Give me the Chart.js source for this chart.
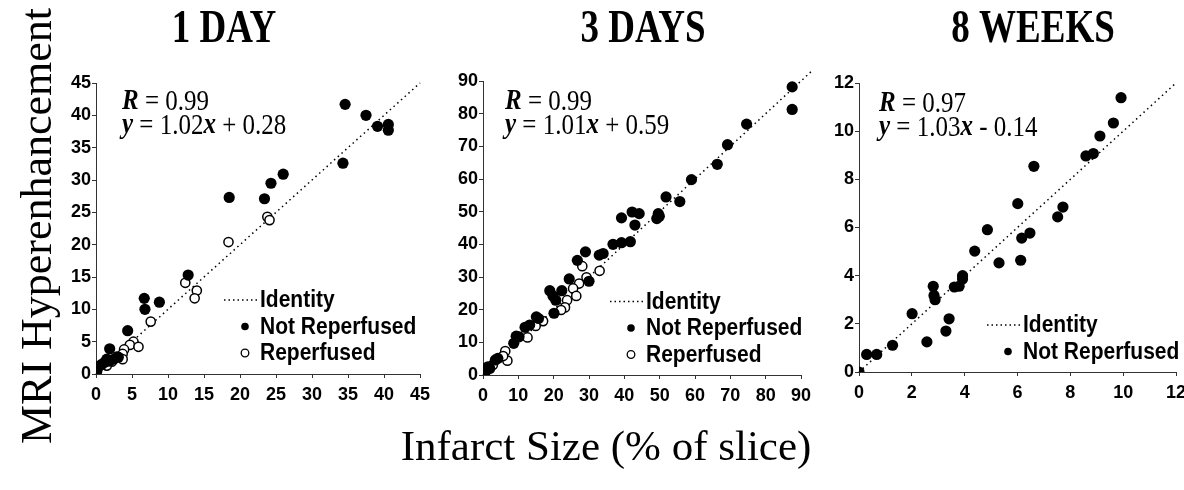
<!DOCTYPE html>
<html>
<head>
<meta charset="utf-8">
<script src="https://cdn.jsdelivr.net/npm/chart.js@4"></script>
<style>
  body { margin: 0; background: #fff; width: 1184px; height: 490px; overflow: hidden; }
  canvas { position: absolute; left: 0; top: 0; }
</style>
</head>
<body>
<canvas id="day1" width="1184" height="490"></canvas>
<canvas id="day3" width="1184" height="490"></canvas>
<canvas id="week8" width="1184" height="490"></canvas>
<script>
// ---- data ----
const panelTitles = ["1 DAY", "3 DAYS", "8 WEEKS"];
const legendLabels = ["Identity", "Not Reperfused", "Reperfused"];
const fitR = ["0.99", "0.99", "0.97"];
const fitSlope = ["1.02", "1.01", "1.03"];
const fitIntercept = ["+ 0.28", "+ 0.59", "- 0.14"];
const axisMax = [45, 90, 12];
const axisStep = [5, 10, 2];
const identityEnd = [45, 93, 12];

const day1NotRepX = [34.6, 37.5, 39.1, 40.6, 40.6, 34.3, 26.0, 24.3, 23.4, 18.5, 12.8, 6.7, 6.8, 8.8, 4.4, 1.9, 3.1, 2.5, 1.9, 1.5, 1.2, 0.8, 0.4, 0.2, 0.1, 0];
const day1NotRepY = [41.7, 40.0, 38.3, 38.6, 37.7, 32.6, 30.9, 29.5, 27.1, 27.3, 15.3, 11.7, 10.0, 11.1, 6.7, 3.9, 2.6, 2.3, 2.0, 2.3, 1.8, 1.5, 1.2, 0.9, 0.4, 0];
const day1RepX = [23.8, 24.1, 18.4, 12.4, 14.0, 13.7, 7.6, 5.2, 4.7, 5.9, 3.9, 3.7, 3.7, 2.9, 2.2, 1.5];
const day1RepY = [24.3, 23.8, 20.4, 14.1, 12.9, 11.7, 8.1, 5.0, 4.5, 4.2, 3.8, 3.1, 2.3, 2.7, 1.9, 1.3];

const day3NotRepX = [87.5, 87.5, 74.6, 69.2, 66.3, 59.0, 51.8, 55.7, 49.6, 49.9, 49.2, 42.2, 44.2, 39.2, 43.0, 41.7, 36.8, 39.2, 29.0, 32.9, 34.0, 26.7, 24.4, 30.0, 18.9, 19.8, 20.6, 22.3, 20.1, 15.1, 15.7, 11.9, 13.2, 9.4, 10.2, 8.7, 4.2, 3.5, 1.9, 1.4, 0.9, 0.5, 0.3];
const day3NotRepY = [88.2, 81.3, 76.8, 70.5, 64.5, 59.8, 54.5, 53.1, 49.4, 48.6, 47.9, 49.9, 49.4, 48.1, 45.9, 40.8, 40.0, 40.5, 37.7, 36.7, 37.2, 35.1, 29.4, 28.7, 25.8, 24.2, 22.9, 25.8, 18.9, 17.8, 17.3, 14.6, 15.3, 11.9, 11.7, 9.7, 5.1, 4.6, 2.0, 2.5, 1.5, 0.5, 0];
const day3RepX = [28.1, 33.0, 29.3, 27.2, 25.5, 26.4, 23.8, 23.2, 22.1, 17.0, 14.9, 12.6, 6.3, 6.9, 2.8, 1.4, 5.7];
const day3RepY = [33.3, 31.9, 29.9, 28.0, 26.5, 24.2, 22.9, 20.7, 19.9, 16.5, 15.0, 11.5, 7.3, 4.4, 3.1, 2.0, 5.8];

const week8NotRepX = [9.92, 9.63, 9.12, 8.87, 8.59, 6.62, 6.01, 7.72, 7.52, 6.47, 6.16, 6.12, 4.86, 5.30, 4.38, 3.92, 3.92, 3.61, 3.79, 2.81, 2.84, 2.88, 3.41, 3.29, 2.57, 2.01, 1.27, 0.67, 0.29, 0];
const week8NotRepY = [11.39, 10.34, 9.80, 9.07, 8.97, 8.54, 6.99, 6.85, 6.44, 5.77, 5.56, 4.64, 5.91, 4.53, 5.02, 4.00, 3.86, 3.53, 3.56, 3.56, 3.18, 3.00, 2.21, 1.70, 1.25, 2.42, 1.11, 0.73, 0.73, 0];

function pts(xs, ys) {
  return xs.map((x, i) => ({ x: x, y: ys[i] }));
}

const serif = '"Liberation Serif", "Times New Roman", serif';
const sans = '"Liberation Sans", Arial, sans-serif';

// draws a line of text made of runs with different font styles,
// stretched a little vertically like the scanned original
function drawRuns(ctx, x, y, runs, size) {
  ctx.save();
  ctx.translate(x, y);
  ctx.scale(1, 1.15);
  ctx.textAlign = "left";
  ctx.textBaseline = "middle";
  let cx = 0;
  for (const [style, text] of runs) {
    ctx.font = style + " " + size + "px " + serif;
    ctx.fillText(text, cx, 0);
    cx += ctx.measureText(text).width;
  }
  ctx.restore();
}

const panelText = {
  id: "panelText",
  afterDraw(chart, args, o) {
    const ctx = chart.ctx;
    ctx.save();
    ctx.fillStyle = "#000";

    // panel title
    ctx.save();
    ctx.translate(o.titleX, 30);
    ctx.scale(1, 1.25);
    ctx.font = "bold 37px " + serif;
    ctx.textAlign = "center";
    ctx.textBaseline = "middle";
    ctx.fillText(o.title, 0, 0);
    ctx.restore();

    // regression text
    drawRuns(ctx, o.noteX, o.noteY, [["bold italic", "R"], ["", " = " + o.r]], 25);
    drawRuns(ctx, o.noteX, o.noteY + 24, [["bold italic", "y"], ["", " = " + o.slope], ["bold italic", "x"], ["", " " + o.intercept]], 25);

    // legend
    o.labels.forEach((lab, i) => {
      const y = o.legY + i * 26.5;
      if (i === 0) {
        ctx.save();
        ctx.strokeStyle = "#000";
        ctx.lineWidth = 1.5;
        ctx.setLineDash([1.5, 3]);
        ctx.beginPath();
        ctx.moveTo(o.legX - 36, y);
        ctx.lineTo(o.legX - 1, y);
        ctx.stroke();
        ctx.restore();
      } else {
        ctx.beginPath();
        ctx.arc(o.legX - 15, y, 3.8, 0, Math.PI * 2);
        if (i === 1) {
          ctx.fill();
        } else {
          ctx.lineWidth = 1.3;
          ctx.strokeStyle = "#000";
          ctx.stroke();
        }
      }
      ctx.save();
      ctx.translate(o.legX, y + 1);
      ctx.scale(1, 1.12);
      ctx.font = "bold 21px " + sans;
      ctx.textAlign = "left";
      ctx.textBaseline = "middle";
      ctx.fillText(lab, 0, 0);
      ctx.restore();
    });

    // figure-wide axis titles, drawn once
    if (o.axisTitles) {
      ctx.font = "43px " + serif;
      ctx.textAlign = "center";
      ctx.textBaseline = "alphabetic";
      ctx.fillText("Infarct Size (% of slice)", 606, 460);
      ctx.save();
      ctx.translate(51, 226);
      ctx.rotate(-Math.PI / 2);
      ctx.font = "44px " + serif;
      ctx.fillText("MRI Hyperenhancement", 0, 0);
      ctx.restore();
    }
    ctx.restore();
  }
};

function makePanel(id, i, notRep, rep, pad, text) {
  const datasets = [
    {
      label: legendLabels[1],
      data: notRep,
      pointRadius: 5.6,
      pointBorderWidth: 0,
      backgroundColor: "#000",
      borderColor: "#000"
    }
  ];
  if (rep) {
    datasets.push({
      label: legendLabels[2],
      data: rep,
      pointRadius: 4.6,
      pointBorderWidth: 1.5,
      backgroundColor: "#fff",
      borderColor: "#000"
    });
  }
  datasets.push({
    label: legendLabels[0],
    data: [{ x: 0, y: 0 }, { x: identityEnd[i], y: identityEnd[i] }],
    showLine: true,
    pointRadius: 0,
    borderColor: "#000",
    borderWidth: 1.5,
    borderDash: [1.5, 3.5],
    clip: false
  });

  const tickFont = { family: sans, size: 18, weight: "bold" };
  return new Chart(document.getElementById(id), {
    type: "scatter",
    data: { datasets: datasets },
    options: {
      responsive: false,
      animation: false,
      layout: { padding: pad },
      plugins: {
        legend: { display: false },
        tooltip: { enabled: false },
        panelText: Object.assign({
          title: panelTitles[i],
          r: fitR[i],
          slope: fitSlope[i],
          intercept: fitIntercept[i],
          labels: rep ? legendLabels : legendLabels.slice(0, 2)
        }, text)
      },
      scales: {
        x: {
          type: "linear",
          min: 0,
          max: axisMax[i],
          ticks: { stepSize: axisStep[i], font: tickFont, color: "#000", padding: 6 },
          grid: { drawOnChartArea: false, tickLength: 4, color: "#333" },
          border: { color: "#333", width: 1 },
          afterFit(s) { s.height = 30; s.paddingLeft = 0; s.paddingRight = 0; }
        },
        y: {
          type: "linear",
          min: 0,
          max: axisMax[i],
          ticks: { stepSize: axisStep[i], font: tickFont, color: "#000", padding: 1 },
          grid: { drawOnChartArea: false, tickLength: 4, color: "#333" },
          border: { color: "#333", width: 1 },
          afterFit(s) { s.width = 40; s.paddingTop = 0; s.paddingBottom = 0; }
        }
      }
    },
    plugins: [panelText]
  });
}

makePanel("day1", 0, pts(day1NotRepX, day1NotRepY), pts(day1RepX, day1RepY),
  { left: 56, top: 83, right: 764, bottom: 86 },
  { titleX: 224, noteX: 122, noteY: 102, legX: 260, legY: 300, axisTitles: true });

makePanel("day3", 1, pts(day3NotRepX, day3NotRepY), pts(day3RepX, day3RepY),
  { left: 443, top: 81, right: 383, bottom: 85 },
  { titleX: 643, noteX: 505, noteY: 102, legX: 646, legY: 301.5 });

makePanel("week8", 2, pts(week8NotRepX, week8NotRepY), null,
  { left: 819, top: 83, right: 8, bottom: 88 },
  { titleX: 1033, noteX: 879, noteY: 104, legX: 1023, legY: 325 });
</script>
</body>
</html>
